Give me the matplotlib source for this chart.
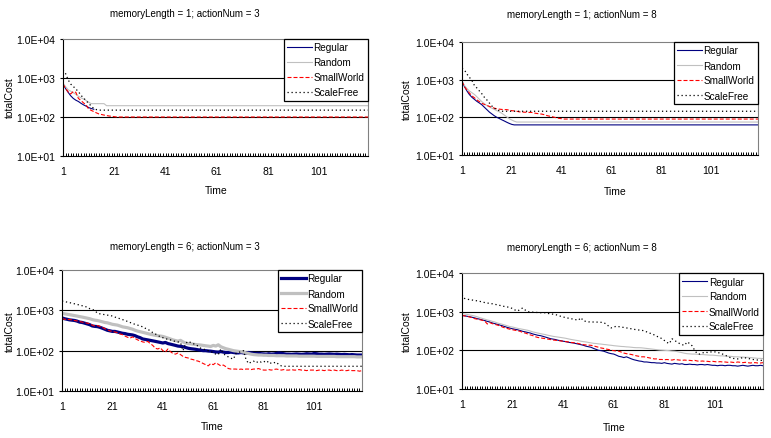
import matplotlib
matplotlib.use("Agg")
import matplotlib.pyplot as plt
import numpy as np
from matplotlib.ticker import FixedLocator, MultipleLocator, FuncFormatter

plt.rcParams['font.family'] = ['Liberation Sans', 'DejaVu Sans']

N = 120
time = np.arange(1, N + 1)
series_names = ["Regular", "Random", "SmallWorld", "ScaleFree"]
x_ticks = [1, 21, 41, 61, 81, 101]
y_ticks = [1e1, 1e2, 1e3, 1e4]

titles = ["memoryLength = 1; actionNum = 3", "memoryLength = 1; actionNum = 8",
          "memoryLength = 6; actionNum = 3", "memoryLength = 6; actionNum = 8"]

# ---- memoryLength = 1; actionNum = 3 ----
m1a3_regular = [700, 540, 430, 350, 300, 270, 250, 225, 205, 190, 175, 165, 158]
m1a3_random = ([740, 600, 500, 460, 420, 380, 340, 310, 290, 265, 240]
               + [220] * 6 + [195] * 103)
m1a3_small = ([700, 540, 440, 390, 450, 430, 300, 265, 230, 205, 160, 148, 138,
               128, 120, 116, 112, 109, 106, 104, 102] + [100] * 99)
m1a3_scale = ([1600, 1300, 900, 700, 610, 520, 450, 360, 310, 260, 225, 190, 165,
               155] + [150] * 106)

# ---- memoryLength = 1; actionNum = 8 ----
m1a8_regular = ([900, 650, 500, 400, 340, 300, 265, 240, 215, 185, 160, 138, 123,
                 110, 100, 93, 86, 80, 74, 69, 65] + [63] * 99)
m1a8_random = ([900, 700, 580, 500, 450, 405, 350, 300, 260, 230, 205, 188, 175,
                162, 150, 140, 128, 115, 103, 92, 85, 79] + [75] * 98)
m1a8_small = ([900, 650, 530, 440, 370, 330, 290, 260, 235, 220, 208, 195, 185,
               175, 168, 165, 162, 160, 160, 155, 150, 148, 145, 140, 138, 137,
               136, 135, 135, 130, 127, 124, 122, 118, 112, 108, 105, 101, 97, 94,
               92] + [90] * 79)
m1a8_scale = ([2000, 1800, 1400, 1150, 950, 700, 600, 500, 420, 340, 290, 240,
               200, 175, 160, 150] + [145] * 104)

# ---- memoryLength = 6; actionNum = 3 ----
m6a3_regular = [650, 620, 600, 580, 570, 560, 540, 510, 500, 480,
                460, 440, 410, 400, 395, 380, 360, 340, 320, 310,
                300, 300, 290, 280, 270, 265, 255, 250, 245, 235,
                220, 210, 195, 190, 185, 180, 175, 170, 165, 160,
                155, 160, 150, 145, 140, 135, 130, 128, 125, 120,
                115, 112, 110, 108, 105, 103, 100, 100, 98, 97,
                95, 93, 92, 95, 92, 90, 90, 92, 90, 88,
                88, 90, 88, 87, 90, 88, 86, 85, 86, 84,
                83, 82, 84, 82, 83, 85, 88, 86, 84, 82,
                82, 81, 82, 83, 82, 81, 82, 84, 83, 82,
                85, 84, 82, 82, 81, 82, 83, 82, 81, 82,
                81, 80, 81, 80, 79, 80, 79, 78, 78, 78]
m6a3_random = [840, 820, 800, 780, 760, 740, 720, 700, 680, 660,
               640, 620, 590, 570, 560, 540, 520, 500, 490, 470,
               450, 440, 430, 410, 390, 380, 370, 355, 340, 320,
               305, 295, 285, 275, 265, 255, 248, 240, 235, 230,
               225, 215, 205, 195, 185, 178, 172, 180, 165, 155,
               150, 148, 145, 142, 140, 138, 135, 132, 130, 127,
               135, 130, 140, 125, 118, 112, 108, 104, 100, 98,
               96, 94, 92, 88, 85, 82, 80, 79, 78, 78,
               77, 77, 76, 76, 76, 75, 75, 75, 75, 74,
               74, 74, 74, 74, 73, 73, 73, 73, 73, 73,
               73, 72, 72, 72, 72, 72, 72, 72, 72, 71,
               71, 71, 71, 71, 71, 71, 71, 70, 70, 70]
m6a3_small = [630, 600, 600, 590, 580, 560, 545, 530, 510, 500,
              480, 470, 430, 410, 420, 400, 380, 350, 330, 310,
              300, 290, 280, 260, 250, 230, 215, 205, 220, 200,
              185, 175, 165, 160, 170, 150, 135, 115, 110, 118,
              100, 92, 110, 95, 85, 82, 88, 80, 72, 68,
              66, 62, 60, 57, 55, 52, 48, 45, 42, 48,
              45, 50, 46, 42, 44, 40, 36, 35, 35, 35,
              34, 35, 34, 35, 35, 34, 35, 35, 36, 34,
              33, 33, 34, 33, 34, 35, 34, 33, 34, 33,
              33, 34, 33, 33, 34, 33, 33, 32, 33, 33,
              33, 32, 33, 33, 32, 33, 33, 32, 33, 32,
              32, 33, 32, 32, 33, 32, 32, 32, 31, 32]
m6a3_scale = ([1700, 1650, 1600, 1550, 1500, 1450, 1400, 1350, 1300, 1250,
               1200, 1100, 1050, 1000, 850, 820, 800, 780, 760, 750,
               720, 680, 650, 620, 590, 560, 530, 500, 470, 450,
               430, 410, 390, 360, 340, 310, 280, 260, 240, 220,
               210, 200, 190, 185, 175, 170, 165, 160, 100, 150,
               170, 160, 150, 140, 130, 115, 110, 105, 100, 95,
               90, 82, 80, 110, 85, 75, 70, 65, 62, 85,
               90, 95, 100, 60, 48, 52, 55, 50, 55, 52,
               55, 50, 55, 48, 50, 52, 45, 42, 41, 41] + [41] * 30)

# ---- memoryLength = 6; actionNum = 8 ----
m6a8_regular = [800, 780, 760, 740, 715, 690, 660, 640, 610, 590,
                560, 540, 510, 490, 470, 450, 430, 410, 390, 375,
                360, 350, 340, 325, 310, 300, 290, 280, 265, 255,
                245, 240, 230, 220, 210, 200, 195, 190, 182, 178,
                172, 168, 162, 158, 155, 150, 145, 140, 135, 128,
                124, 120, 112, 106, 100, 98, 95, 90, 85, 82,
                80, 75, 70, 68, 65, 68, 64, 60, 57, 55,
                53, 52, 50, 50, 49, 48, 48, 47, 47, 46,
                48, 46, 45, 44, 46, 45, 44, 45, 43, 43,
                44, 43, 43, 42, 43, 43, 42, 43, 42, 41,
                41, 40, 41, 41, 40, 41, 41, 40, 40, 39,
                40, 41, 40, 39, 40, 41, 40, 40, 41, 40]
m6a8_random = [890, 870, 850, 820, 800, 770, 740, 700, 670, 640,
               610, 590, 560, 540, 510, 490, 470, 450, 430, 410,
               400, 385, 370, 360, 350, 340, 330, 315, 300, 290,
               280, 270, 262, 255, 245, 238, 230, 225, 220, 215,
               210, 205, 198, 192, 187, 182, 178, 172, 168, 165,
               160, 156, 152, 150, 147, 145, 142, 140, 137, 135,
               132, 130, 128, 126, 125, 123, 122, 120, 118, 117,
               117, 116, 114, 112, 110, 108, 106, 104, 102, 101,
               100, 99, 98, 96, 95, 93, 90, 87, 84, 82,
               81, 80, 80, 79, 78, 78, 77, 76, 75, 75,
               74, 73, 72, 72, 71, 70, 70, 69, 68, 68,
               67, 67, 66, 66, 65, 64, 63, 62, 62, 61]
m6a8_small = [800, 780, 760, 730, 700, 660, 640, 620, 600, 570,
              480, 520, 490, 470, 450, 430, 400, 380, 365, 350,
              340, 330, 320, 310, 290, 280, 265, 250, 240, 225,
              215, 210, 205, 200, 195, 190, 185, 182, 180, 175,
              172, 168, 165, 160, 158, 155, 150, 145, 140, 138,
              136, 135, 130, 125, 120, 115, 112, 108, 105, 100,
              98, 96, 95, 90, 85, 82, 80, 78, 75, 72,
              70, 68, 68, 66, 64, 62, 60, 60, 58, 58,
              57, 58, 57, 56, 58, 57, 56, 55, 56, 55,
              55, 54, 55, 53, 52, 53, 52, 52, 51, 52,
              51, 50, 51, 50, 50, 49, 50, 49, 48, 50,
              49, 48, 49, 48, 47, 48, 48, 47, 47, 48]
m6a8_scale = [2750, 2200, 2100, 2050, 2000, 1960, 1900, 1850, 1780, 1720,
              1680, 1620, 1600, 1550, 1500, 1450, 1400, 1350, 1320, 1280,
              1200, 1100, 1040, 1150, 1250, 1100, 1000, 980, 970, 960,
              950, 940, 930, 940, 900, 880, 860, 840, 800, 760,
              730, 700, 680, 660, 640, 620, 600, 700, 580, 560,
              545, 540, 540, 535, 540, 530, 520, 480, 420, 380,
              400, 420, 410, 400, 390, 380, 370, 360, 350, 340,
              335, 330, 320, 300, 280, 270, 250, 230, 220, 200,
              180, 160, 150, 200, 180, 165, 150, 140, 135, 165,
              150, 130, 100, 82, 80, 85, 90, 88, 90, 92,
              91, 88, 85, 80, 75, 70, 65, 62, 61, 60,
              62, 65, 64, 62, 60, 58, 57, 56, 55, 55]

panels = [
    [m1a3_regular, m1a3_random, m1a3_small, m1a3_scale],
    [m1a8_regular, m1a8_random, m1a8_small, m1a8_scale],
    [m6a3_regular, m6a3_random, m6a3_small, m6a3_scale],
    [m6a8_regular, m6a8_random, m6a8_small, m6a8_scale],
]

W, H = 771, 439
fig = plt.figure(figsize=(W / 100, H / 100), dpi=100)

# axes boxes in pixels: left, top, right, bottom
boxes = [(63, 40, 368, 157), (462, 43, 758, 156), (62, 271, 362, 392), (462, 274, 763, 390)]
title_pos = [(185, 14), (582, 15), (185, 247), (582, 248)]
ylab_pos = [(10, 98), (407, 100), (10, 332), (407, 332)]
xlab_pos = [(216, 191), (615, 192), (212, 427), (614, 428)]
thick = [False, False, True, False]

colors = ["#000080", "#C0C0C0", "#FF0000", "#000000"]

def fx(x):
    return x / W

def fy(y):
    return 1 - y / H

for i, data in enumerate(panels):
    l, t, r, b = boxes[i]
    ax = fig.add_axes([fx(l), fy(b), (r - l) / W, (b - t) / H])
    ax.set_yscale('log')
    ax.set_ylim(y_ticks[0], y_ticks[-1])
    ax.set_xlim(1, N)
    for v in y_ticks[1:-1]:
        ax.axhline(v, color='black', lw=0.8, zorder=1)
    lw_main = 2.3 if thick[i] else 0.8
    styles = [dict(color=colors[0], lw=lw_main, ls='-'),
              dict(color=colors[1], lw=lw_main, ls='-'),
              dict(color=colors[2], lw=0.8, ls=(0, (3.6, 1.8))),
              dict(color=colors[3], lw=0.9, ls=(0, (1, 2.2)))]
    for name, vals, st in zip(series_names, data, styles):
        ax.plot(time[:len(vals)], vals, label=name, zorder=2, **st)
    for s in ['left', 'bottom']:
        ax.spines[s].set_color('black')
        ax.spines[s].set_linewidth(0.8)
    for s in ['top', 'right']:
        ax.spines[s].set_color('#808080')
        ax.spines[s].set_linewidth(0.8)
    ax.yaxis.set_major_locator(FixedLocator(y_ticks))
    ax.yaxis.set_minor_locator(FixedLocator([]))
    ax.yaxis.set_major_formatter(FuncFormatter(lambda v, p: f"{v:.1E}"))
    ax.xaxis.set_major_locator(FixedLocator(x_ticks))
    ax.xaxis.set_minor_locator(MultipleLocator(1))
    ax.tick_params(axis='y', which='major', direction='out', length=2, width=0.8,
                   pad=3.5, labelsize=7.5, colors='black')
    ax.tick_params(axis='x', which='both', direction='in', length=2.3, width=0.7,
                   pad=7.5, labelsize=7.5, colors='black')
    leg = ax.legend(loc='upper right', bbox_to_anchor=(1, 1), borderaxespad=0,
                    fontsize=7.2, handlelength=2.5, handletextpad=0.15,
                    labelspacing=0.5, borderpad=0.35, fancybox=False,
                    framealpha=1, edgecolor='black')
    leg.get_frame().set_linewidth(0.9)
    leg.set_zorder(5)
    fig.text(fx(title_pos[i][0]), fy(title_pos[i][1]), titles[i], ha='center',
             va='center', fontsize=7)
    fig.text(fx(ylab_pos[i][0]), fy(ylab_pos[i][1]), "totalCost", ha='center',
             va='center', rotation=90, fontsize=7.5)
    fig.text(fx(xlab_pos[i][0]), fy(xlab_pos[i][1]), "Time", ha='center',
             va='center', fontsize=7.5)

fig.savefig("out.png", dpi=100)
